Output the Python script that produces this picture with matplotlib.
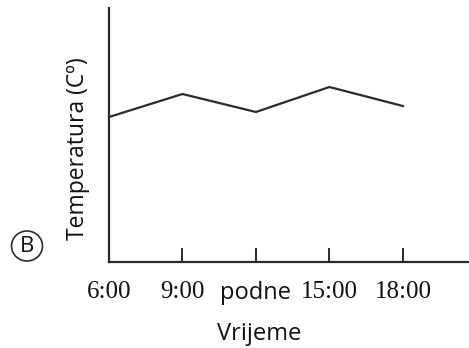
import matplotlib.pyplot as plt
from matplotlib.patches import Ellipse

# temperature through the day (arbitrary units, only the shape matters)
hours = [6, 9, 12, 15, 18]
temps = [14.5, 16.8, 15.0, 17.5, 15.6]
tick_labels = ["6:00", "9:00", "podne", "15:00", "18:00"]

ink = "#2b2b2b"
fig = plt.figure(figsize=(4.69, 3.48), dpi=100)
ax = fig.add_axes([0.2324, 0.2471, 0.7676, 0.7299])

ax.plot(hours, temps, color=ink, lw=1.6, solid_joinstyle="miter", clip_on=False)

ax.set_xlim(6, 20.7)
ax.set_ylim(0, 25.4)

for side in ("top", "right"):
    ax.spines[side].set_visible(False)
for side in ("left", "bottom"):
    ax.spines[side].set_color(ink)
    ax.spines[side].set_linewidth(1.6)

ax.set_yticks([])
ax.set_xticks(hours)
ax.set_xticklabels(tick_labels)
ax.tick_params(axis="x", direction="in", length=10, width=1.4, color=ink, pad=14)
for lbl in ax.get_xticklabels():
    if lbl.get_text() == "podne":
        lbl.set_fontfamily("Open Sans")
        lbl.set_fontsize(17)
    else:
        lbl.set_fontfamily("Liberation Serif")
        lbl.set_fontsize(18)
    lbl.set_color("#111111")
# no tick mark at the origin
ax.xaxis.get_major_ticks()[0].tick1line.set_visible(False)

ax.set_xlabel("Vrijeme", fontfamily="Open Sans", fontsize=17, color="#111111")
ax.xaxis.set_label_coords(0.417, -0.238)
ax.set_ylabel("Temperatura (Cº)", fontfamily="Open Sans", fontsize=16.5, color="#111111")
ax.yaxis.set_label_coords(-0.053, 0.445)

# panel marker
cx, cy = 27 / 469, 1 - 246 / 348
fig.patches.append(Ellipse((cx, cy), 31 / 469, 30 / 348, transform=fig.transFigure,
                           fill=False, ec=ink, lw=1.2))
fig.text(cx, cy, "B", ha="center", va="center",
         fontfamily="Open Sans", fontsize=16, color="#111111")

fig.savefig("out.png", dpi=100)
